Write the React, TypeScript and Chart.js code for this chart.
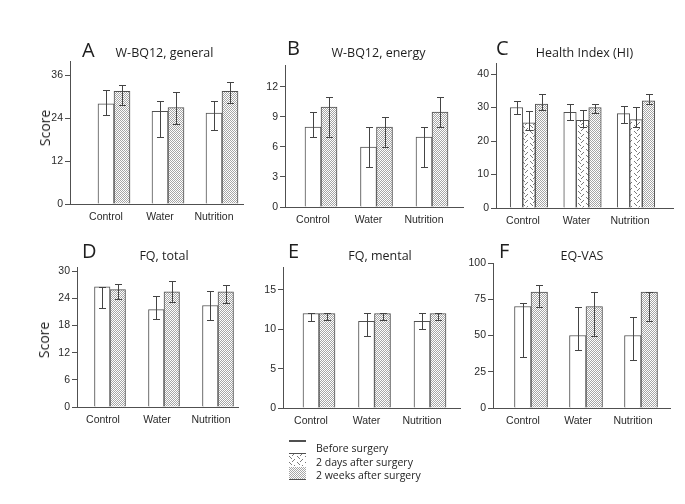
import React, { useEffect, useRef } from 'react';
import { Chart, registerables } from 'chart.js';

Chart.register(...registerables);

// ---------- data ----------
const groups = ['Control', 'Water', 'Nutrition'];

// A: W-BQ12, general
const aTicks = [0, 12, 24, 36];
const aBefore = [28, 25.9, 25.4];
const aBeforeLow = [24.8, 18.8, 20.8];
const aBeforeHigh = [31.8, 28.8, 28.8];
const aWeeks2 = [31.5, 27, 31.5];
const aWeeks2Low = [27.6, 22.3, 28.3];
const aWeeks2High = [33.2, 31.4, 34];

// B: W-BQ12, energy
const bTicks = [0, 3, 6, 9, 12];
const bBefore = [8, 6, 7];
const bBeforeLow = [7, 4, 4];
const bBeforeHigh = [9.5, 8, 8];
const bWeeks2 = [10, 8, 9.5];
const bWeeks2Low = [7, 6, 8];
const bWeeks2High = [11, 9, 11];

// C: Health Index (HI)
const cTicks = [0, 10, 20, 30, 40];
const cBefore = [30, 28.6, 28.2];
const cBeforeLow = [28, 26.4, 25.4];
const cBeforeHigh = [32, 31, 30.5];
const cDays2 = [25.4, 26.2, 26.4];
const cDays2Low = [23.4, 24.2, 24.2];
const cDays2High = [28.9, 29.2, 30.2];
const cWeeks2 = [31, 30, 32];
const cWeeks2Low = [29.4, 28.4, 31.1];
const cWeeks2High = [34, 31, 34];

// D: FQ, total
const dTicks = [0, 6, 12, 18, 24, 30];
const dBefore = [26.5, 21.5, 22.4];
const dBeforeLow = [21.9, 19.5, 19.3];
const dBeforeHigh = [26.5, 24.4, 25.6];
const dWeeks2 = [25.9, 25.4, 25.4];
const dWeeks2Low = [23.9, 23.2, 23];
const dWeeks2High = [27.2, 27.8, 27];

// E: FQ, mental
const eTicks = [0, 5, 10, 15];
const eBefore = [12, 11, 11];
const eBeforeLow = [11.1, 9.2, 10];
const eBeforeHigh = [12, 12, 12];
const eWeeks2 = [12, 12, 12];
const eWeeks2Low = [11.2, 11.2, 11.2];
const eWeeks2High = [12, 12, 12];

// F: EQ-VAS
const fTicks = [0, 25, 50, 75, 100];
const fBefore = [70, 50, 50];
const fBeforeLow = [35, 40, 33];
const fBeforeHigh = [72.5, 70, 63];
const fWeeks2 = [80, 70, 80];
const fWeeks2Low = [70, 50, 60];
const fWeeks2High = [85, 80, 80];

const legendLabels = ['Before surgery', '2 days after surgery', '2 weeks after surgery'];

// ---------- styling / layout ----------
const AXIS = '#505050';
const TEXT = '#2a2a2a';
const TICK_FONT = { family: 'Liberation Sans', size: 10.5 };

type Kind = 'before' | 'days' | 'weeks';
type Series = { kind: Kind; values: number[]; low: number[]; high: number[] };
type Spec = {
  letter: string; title: string; series: Series[]; ticks: number[]; yMax: number;
  axisX: number; axisRight: number; axisTop: number; axisBottom: number;
  firstCenter: number; spacing: number; barWidth: number; labelOffset: number;
  letterX: number; letterY: number; titleX: number; titleY: number; score?: { x: number; y: number };
};

const panels: Spec[] = [
  {
    letter: 'A', title: 'W-BQ12, general', ticks: aTicks, yMax: 40,
    series: [
      { kind: 'before', values: aBefore, low: aBeforeLow, high: aBeforeHigh },
      { kind: 'weeks', values: aWeeks2, low: aWeeks2Low, high: aWeeks2High },
    ],
    axisX: 70, axisRight: 243, axisTop: 61, axisBottom: 204,
    firstCenter: 114, spacing: 54, barWidth: 16, labelOffset: -8,
    letterX: 82, letterY: 50, titleX: 164.5, titleY: 53, score: { x: 45, y: 128 },
  },
  {
    letter: 'B', title: 'W-BQ12, energy', ticks: bTicks, yMax: 14.2,
    series: [
      { kind: 'before', values: bBefore, low: bBeforeLow, high: bBeforeHigh },
      { kind: 'weeks', values: bWeeks2, low: bWeeks2Low, high: bWeeks2High },
    ],
    axisX: 285, axisRight: 463, axisTop: 65, axisBottom: 207,
    firstCenter: 321, spacing: 55.5, barWidth: 16, labelOffset: -8,
    letterX: 287, letterY: 48, titleX: 378.5, titleY: 53,
  },
  {
    letter: 'C', title: 'Health Index (HI)', ticks: cTicks, yMax: 43.3,
    series: [
      { kind: 'before', values: cBefore, low: cBeforeLow, high: cBeforeHigh },
      { kind: 'days', values: cDays2, low: cDays2Low, high: cDays2High },
      { kind: 'weeks', values: cWeeks2, low: cWeeks2Low, high: cWeeks2High },
    ],
    axisX: 496, axisRight: 673, axisTop: 63, axisBottom: 208,
    firstCenter: 529, spacing: 53.5, barWidth: 12.5, labelOffset: -6,
    letterX: 496, letterY: 48, titleX: 584.5, titleY: 53,
  },
  {
    letter: 'D', title: 'FQ, total', ticks: dTicks, yMax: 30.9,
    series: [
      { kind: 'before', values: dBefore, low: dBeforeLow, high: dBeforeHigh },
      { kind: 'weeks', values: dWeeks2, low: dWeeks2Low, high: dWeeks2High },
    ],
    axisX: 77, axisRight: 238, axisTop: 267, axisBottom: 407,
    firstCenter: 110, spacing: 54, barWidth: 15.5, labelOffset: -7,
    letterX: 82, letterY: 251, titleX: 164, titleY: 256, score: { x: 44, y: 340 },
  },
  {
    letter: 'E', title: 'FQ, mental', ticks: eTicks, yMax: 17.9,
    series: [
      { kind: 'before', values: eBefore, low: eBeforeLow, high: eBeforeHigh },
      { kind: 'weeks', values: eWeeks2, low: eWeeks2Low, high: eWeeks2High },
    ],
    axisX: 283, axisRight: 460, axisTop: 267, axisBottom: 408,
    firstCenter: 319, spacing: 55.5, barWidth: 16, labelOffset: -8,
    letterX: 288, letterY: 251, titleX: 380, titleY: 256,
  },
  {
    letter: 'F', title: 'EQ-VAS', ticks: fTicks, yMax: 100,
    series: [
      { kind: 'before', values: fBefore, low: fBeforeLow, high: fBeforeHigh },
      { kind: 'weeks', values: fWeeks2, low: fWeeks2Low, high: fWeeks2High },
    ],
    axisX: 493, axisRight: 670, axisTop: 263, axisBottom: 408,
    firstCenter: 531, spacing: 55, barWidth: 16.5, labelOffset: -8,
    letterX: 499, letterY: 251, titleX: 582, titleY: 256,
  },
];

const PAD_LEFT = 55;
const PAD_RIGHT = 12;
const PAD_TOP = 10;
const PAD_BOTTOM = 30;

function dotPattern(ctx: CanvasRenderingContext2D) {
  const c = document.createElement('canvas');
  c.width = 2; c.height = 2;
  const g = c.getContext('2d')!;
  g.fillStyle = '#ffffff'; g.fillRect(0, 0, 2, 2);
  g.fillStyle = '#a6a6a6'; g.fillRect(0, 0, 1, 1); g.fillRect(1, 1, 1, 1);
  return ctx.createPattern(c, 'repeat')!;
}

function hatchPattern(ctx: CanvasRenderingContext2D) {
  const c = document.createElement('canvas');
  c.width = 8; c.height = 6;
  const g = c.getContext('2d')!;
  g.fillStyle = '#ffffff'; g.fillRect(0, 0, 8, 6);
  g.fillStyle = '#7a7a7a';
  g.fillRect(1, 0, 1, 1); g.fillRect(2, 1, 1, 1); g.fillRect(3, 2, 1, 1);
  g.fillRect(6, 3, 1, 1); g.fillRect(5, 4, 1, 1); g.fillRect(4, 5, 1, 1);
  return ctx.createPattern(c, 'repeat')!;
}

const errorBarPlugin = {
  id: 'errorBars',
  afterDatasetsDraw(chart: any) {
    const ctx = chart.ctx as CanvasRenderingContext2D;
    const yScale = chart.scales.y;
    ctx.save();
    ctx.strokeStyle = '#444444';
    ctx.lineWidth = 1;
    chart.data.datasets.forEach((ds: any, i: number) => {
      const meta = chart.getDatasetMeta(i);
      meta.data.forEach((el: any, j: number) => {
        const x = Math.round(el.x) + 0.5;
        const yl = Math.round(yScale.getPixelForValue(ds.errLow[j])) + 0.5;
        const yh = Math.round(yScale.getPixelForValue(ds.errHigh[j])) + 0.5;
        ctx.beginPath();
        ctx.moveTo(x, yl); ctx.lineTo(x, yh);
        ctx.moveTo(x - 3.5, yl); ctx.lineTo(x + 3.5, yl);
        ctx.moveTo(x - 3.5, yh); ctx.lineTo(x + 3.5, yh);
        ctx.stroke();
      });
    });
    ctx.restore();
  },
};

function Panel({ spec }: { spec: Spec }) {
  const ref = useRef<HTMLCanvasElement>(null);
  const left = spec.axisX - PAD_LEFT;
  const top = spec.axisTop - PAD_TOP;
  const width = spec.axisRight + PAD_RIGHT - left;
  const height = spec.axisBottom + PAD_BOTTOM - top;

  useEffect(() => {
    const canvas = ref.current!;
    const ctx = canvas.getContext('2d')!;
    const fills: Record<Kind, any> = { before: '#ffffff', days: hatchPattern(ctx), weeks: dotPattern(ctx) };
    const xMin = -(spec.firstCenter - spec.axisX) / spec.spacing;
    const xMax = xMin + (spec.axisRight - spec.axisX) / spec.spacing;
    const chart = new Chart(canvas, {
      type: 'bar',
      data: {
        datasets: spec.series.map((s) => ({
          data: s.values.map((v, i) => ({ x: i, y: v })),
          backgroundColor: fills[s.kind],
          borderColor: AXIS,
          borderWidth: 1,
          barThickness: spec.barWidth,
          errLow: s.low,
          errHigh: s.high,
        })) as any,
      },
      options: {
        responsive: false,
        animation: false,
        devicePixelRatio: 1,
        layout: { padding: { left: 0, right: PAD_RIGHT, top: PAD_TOP, bottom: 0 } },
        plugins: { legend: { display: false }, tooltip: { enabled: false }, title: { display: false } },
        scales: {
          x: {
            type: 'linear', min: xMin, max: xMax, offset: false,
            grid: { display: false, drawTicks: false, offset: false },
            border: { display: true, color: AXIS, width: 1 },
            afterBuildTicks: (s: any) => { s.ticks = groups.map((_, i) => ({ value: i })); },
            afterFit: (s: any) => { s.height = PAD_BOTTOM; },
            ticks: {
              callback: (_v: any, i: number) => groups[i] ?? '',
              labelOffset: spec.labelOffset, padding: 7, font: TICK_FONT, color: TEXT,
              maxRotation: 0, autoSkip: false,
            },
          },
          y: {
            type: 'linear', min: 0, max: spec.yMax,
            afterBuildTicks: (s: any) => { s.ticks = spec.ticks.map((v) => ({ value: v })); },
            afterFit: (s: any) => { s.width = PAD_LEFT; },
            grid: { drawOnChartArea: false, drawTicks: true, tickLength: 5, color: AXIS },
            border: { display: true, color: AXIS, width: 1 },
            ticks: { font: TICK_FONT, color: TEXT, padding: 2 },
          },
        },
      } as any,
      plugins: [errorBarPlugin as any],
    });
    return () => chart.destroy();
  }, []);

  const textBase: React.CSSProperties = { position: 'absolute', whiteSpace: 'nowrap', lineHeight: 1, color: '#1e1e1e' };
  return (
    <>
      <canvas ref={ref} width={width} height={height} style={{ position: 'absolute', left, top, width, height }} />
      <div style={{ ...textBase, left: spec.letterX, top: spec.letterY, transform: 'translateY(-50%)', fontSize: 20, fontFamily: 'Open Sans' }}>{spec.letter}</div>
      <div style={{ ...textBase, left: spec.titleX, top: spec.titleY, transform: 'translate(-50%,-50%)', fontSize: 12.5, fontFamily: 'Open Sans' }}>{spec.title}</div>
      {spec.score && (
        <div style={{ ...textBase, left: spec.score.x, top: spec.score.y, transform: 'translate(-50%,-50%) rotate(-90deg)', fontSize: 14, fontFamily: 'Open Sans', fontWeight: 400 }}>Score</div>
      )}
    </>
  );
}

function LegendPatches() {
  const ref = useRef<HTMLCanvasElement>(null);
  useEffect(() => {
    const c = ref.current!;
    const ctx = c.getContext('2d')!;
    ctx.clearRect(0, 0, c.width, c.height);
    ctx.fillStyle = AXIS;
    ctx.fillRect(1, 2, 17, 2);
    ctx.fillStyle = hatchPattern(ctx);
    ctx.fillRect(1, 16, 17, 12);
    ctx.fillStyle = AXIS;
    ctx.fillRect(1, 15, 17, 1);
    ctx.fillStyle = dotPattern(ctx);
    ctx.fillRect(1, 29, 17, 12);
    ctx.fillStyle = AXIS;
    ctx.fillRect(1, 41, 17, 1);
  }, []);
  return <canvas ref={ref} width={20} height={45} style={{ position: 'absolute', left: 288, top: 438 }} />;
}

export default function App() {
  const legendY = [448, 462, 475];
  return (
    <div style={{ position: 'absolute', left: 0, top: 0, width: 685, height: 504, background: '#ffffff', overflow: 'hidden' }}>
      {panels.map((p) => <Panel key={p.letter} spec={p} />)}
      <LegendPatches />
      {legendLabels.map((t, i) => (
        <div key={t} style={{ position: 'absolute', left: 316, top: legendY[i], transform: 'translateY(-50%)', fontSize: 10.5, fontFamily: 'Open Sans', lineHeight: 1, whiteSpace: 'nowrap', color: '#1e1e1e' }}>{t}</div>
      ))}
    </div>
  );
}
